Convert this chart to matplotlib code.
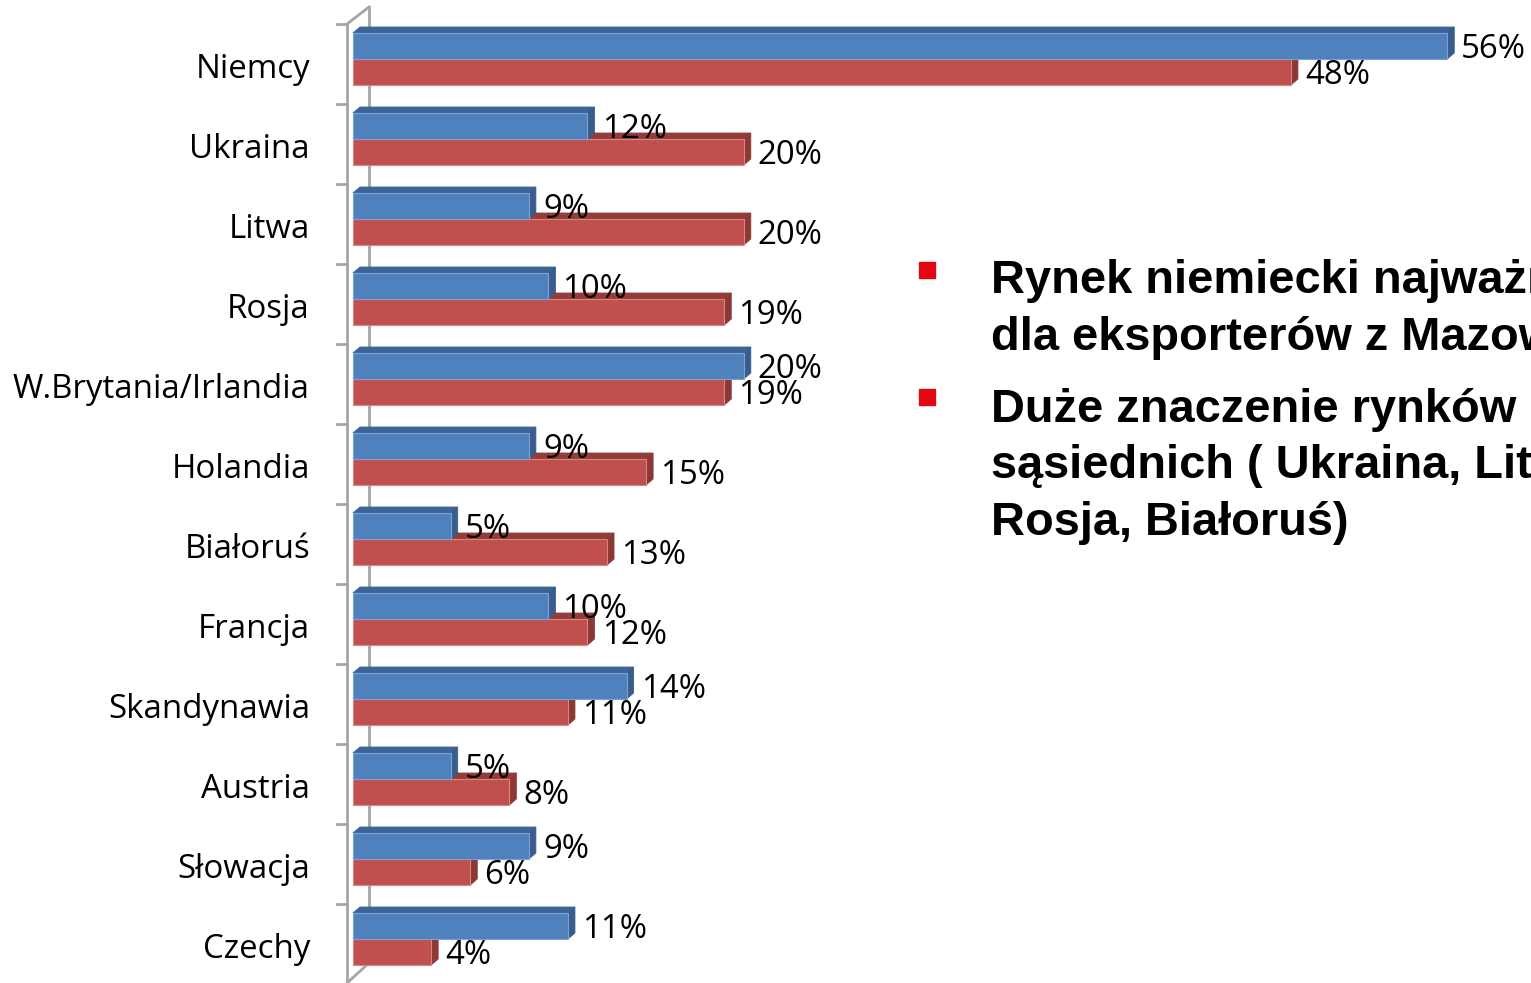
import matplotlib.pyplot as plt
from matplotlib.patches import Polygon

countries = ["Niemcy", "Ukraina", "Litwa", "Rosja", "W.Brytania/Irlandia", "Holandia",
             "Białoruś", "Francja", "Skandynawia", "Austria", "Słowacja", "Czechy"]
blue_vals = [56, 12, 9, 10, 20, 9, 5, 10, 14, 5, 9, 11]
red_vals = [48, 20, 20, 19, 19, 15, 13, 12, 11, 8, 6, 4]

bullets = [
    ["Rynek niemiecki najważniejszy", "dla eksporterów z Mazowsza"],
    ["Duże znaczenie rynków", "sąsiednich ( Ukraina, Litwa,", "Rosja, Białoruś)"],
]

W, H = 1531, 983
PX_PER_PCT = 19.54   # px per 1 %
ZERO_PX = 353
ROW0_PX = 59
ROW_PX = 80

fig = plt.figure(figsize=(W / 100, H / 100), dpi=100)
ax = fig.add_axes([0, 0, 1, 1])
ax.set_xlim(-ZERO_PX / PX_PER_PCT, (W - ZERO_PX) / PX_PER_PCT)
ax.set_ylim((H - ROW0_PX) / ROW_PX, -ROW0_PX / ROW_PX)
ax.axis("off")

# 3d depth of bars
dx = 7 / PX_PER_PCT
dy = 6 / ROW_PX
bh = 26 / ROW_PX

blue = dict(front="#4F81BD", top="#3C6595", side="#385D8A", edge="#7EA3D3")
red = dict(front="#C0504D", top="#943C3A", side="#8C3836", edge="#D98683")

# wall / axis lines
gx_front = -6 / PX_PER_PCT
gx_back = 16 / PX_PER_PCT
wall_dy = 17 / ROW_PX
ytop = -0.4375
ybot = (H - ROW0_PX) / ROW_PX
grey = "#A6A6A6"
ax.plot([gx_front, gx_front], [ytop, ybot], color=grey, lw=2, zorder=1)
ax.plot([gx_back, gx_back], [ytop - wall_dy, ybot - 0.25], color=grey, lw=2, zorder=1)
ax.plot([gx_front, gx_back], [ytop, ytop - wall_dy], color=grey, lw=2, zorder=1)
ax.plot([gx_front, gx_back], [ybot, ybot - 0.25], color=grey, lw=2, zorder=1)
for i in range(len(countries)):
    ty = i - 0.4375
    ax.plot([gx_front - 10 / PX_PER_PCT, gx_front], [ty, ty], color=grey, lw=2, zorder=1)


def bar3d(x, y0, y1, c, z):
    # y0 = top edge of front face, y1 = bottom edge
    ax.add_patch(Polygon([(0, y0), (x, y0), (x + dx, y0 - dy), (dx, y0 - dy)],
                         closed=True, fc=c["top"], ec=c["top"], lw=0.6, zorder=z))
    ax.add_patch(Polygon([(x, y0), (x + dx, y0 - dy), (x + dx, y1 - dy), (x, y1)],
                         closed=True, fc=c["side"], ec=c["side"], lw=0.6, zorder=z))
    ax.barh((y0 + y1) / 2, x, height=bh, left=0, color=c["front"],
            edgecolor=c["edge"], linewidth=0.8, zorder=z + 0.5)


lbl_font = dict(family="Open Sans", fontsize=23.8, color="black")
for i, (name, b, r) in enumerate(zip(countries, blue_vals, red_vals)):
    bar3d(r, i, i + bh, red, 2)
    bar3d(b, i - bh, i, blue, 4)
    ax.text(b + 0.72, i - bh / 2 + 0.05, f"{b}%", va="center", ha="left", zorder=6, **lbl_font)
    ax.text(r + 0.72, i + bh / 2 + 0.05, f"{r}%", va="center", ha="left", zorder=6, **lbl_font)
    ax.text(-43 / PX_PER_PCT, i + 0.13, name, va="center", ha="right", **lbl_font)

# bullet text on the right
line_y = [[293, 350], [422, 478, 535]]
box_y = [270, 397]
for lines, ys, by in zip(bullets, line_y, box_y):
    fig.patches.append(plt.Rectangle((919 / W, 1 - (by + 8) / H), 16 / W, 16 / H,
                                     transform=fig.transFigure, color="#E30613"))
    for t, yy in zip(lines, ys):
        fig.text(991 / W, 1 - yy / H, t, fontsize=33.8, fontweight="bold",
                 family="Liberation Sans", va="baseline", ha="left")

fig.savefig("out.png", dpi=100)
